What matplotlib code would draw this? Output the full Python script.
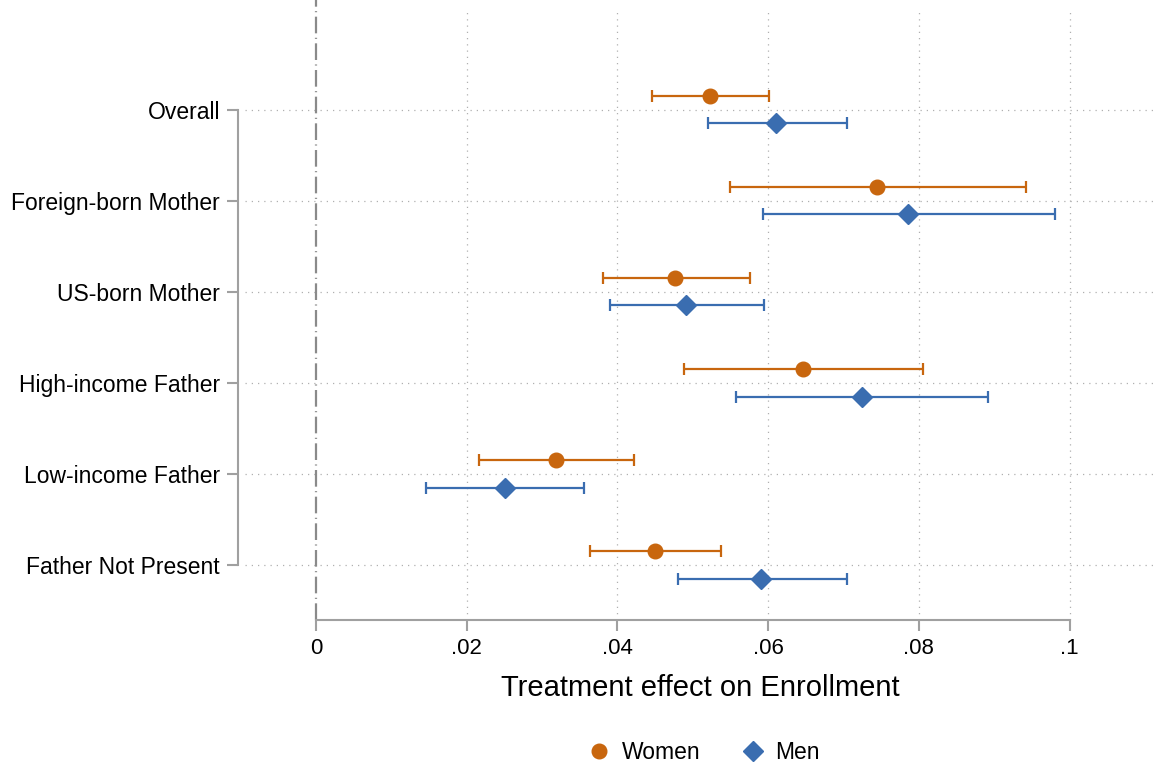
import matplotlib.pyplot as plt
import numpy as np

plt.rcParams['font.family'] = ['Liberation Sans', 'DejaVu Sans']

groups = ['Overall', 'Foreign-born Mother', 'US-born Mother',
          'High-income Father', 'Low-income Father', 'Father Not Present']
women = [0.0523, 0.0745, 0.0477, 0.0646, 0.0318, 0.0450]
women_lo = [0.0446, 0.0549, 0.0381, 0.0488, 0.0216, 0.0363]
women_hi = [0.0601, 0.0942, 0.0576, 0.0805, 0.0422, 0.0538]
men = [0.0610, 0.0785, 0.0491, 0.0724, 0.0251, 0.0590]
men_lo = [0.0520, 0.0593, 0.0390, 0.0557, 0.0146, 0.0480]
men_hi = [0.0704, 0.0980, 0.0595, 0.0891, 0.0355, 0.0704]
xticks = [0, 0.02, 0.04, 0.06, 0.08, 0.1]
xlabels = ['0', '.02', '.04', '.06', '.08', '.1']

orange = '#C8660E'
blue = '#3A6DB0'
grey = '#A0A0A0'

fig = plt.figure(figsize=(11.56, 7.63), dpi=100)
ax = fig.add_axes([0.212, 0.1874, 0.787, 0.800])

# spines first, set_position resets tick styling
for s in ['top', 'right']:
    ax.spines[s].set_visible(False)
ax.spines['left'].set_position(('outward', 5))

y = np.arange(len(groups))
w = np.array(women)
m = np.array(men)

ax.errorbar(w, y - 0.15, xerr=[w - np.array(women_lo), np.array(women_hi) - w],
            fmt='o', color=orange, ms=10.5, elinewidth=1.6, capsize=4,
            capthick=1.6, label='Women', zorder=3)
ax.errorbar(m, y + 0.15, xerr=[m - np.array(men_lo), np.array(men_hi) - m],
            fmt='D', color=blue, ms=10, elinewidth=1.6, capsize=4,
            capthick=1.6, label='Men', zorder=3)

ax.axvline(0, ymin=0, ymax=1.02, color='#8A8A8A', lw=1.6,
           dashes=(7.5, 2, 0.5, 2), clip_on=False, zorder=2)

ax.set_xlim(-0.0094, 0.1113)
ax.set_ylim(5.604, -1.099)
ax.set_yticks(y)
ax.set_yticklabels(groups)
ax.set_xticks(xticks)
ax.set_xticklabels(xlabels)
ax.set_xlabel('Treatment effect on Enrollment', fontsize=21, labelpad=11)

ax.grid(True, axis='both', color='#B0B0B0', linestyle=(0, (1, 4)), lw=0.9)
ax.xaxis.get_gridlines()[0].set_visible(False)

ax.spines['left'].set_bounds(0, 5)
ax.spines['bottom'].set_bounds(0, 0.1)
ax.spines['left'].set_color(grey)
ax.spines['bottom'].set_color(grey)
ax.spines['left'].set_linewidth(1.5)
ax.spines['bottom'].set_linewidth(1.5)
ax.tick_params(axis='both', color=grey, width=1.5, length=8)
ax.tick_params(axis='y', pad=5, labelsize=16.5)
ax.tick_params(axis='x', pad=5, labelsize=16)

handles, labels = ax.get_legend_handles_labels()
handles = [h[0] for h in handles]
fig.legend(handles, labels, loc='center', bbox_to_anchor=(0.610, 0.014),
           ncol=2, frameon=False, fontsize=16.5, handlelength=0.8,
           columnspacing=1.85, handletextpad=0.6)

fig.savefig('out.png', dpi=100)
